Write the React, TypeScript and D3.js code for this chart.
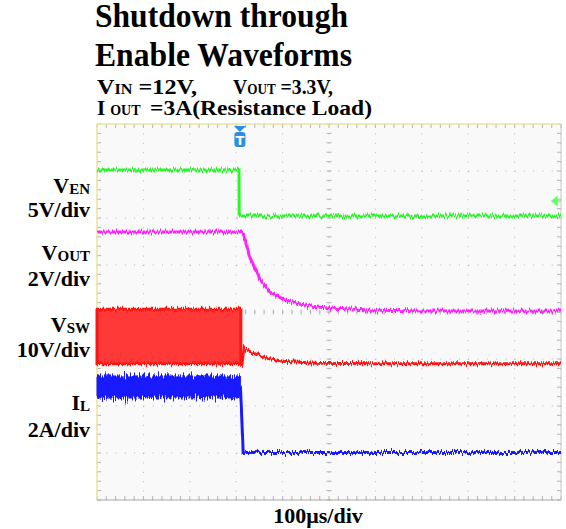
import * as d3 from "d3";

const FONT = "Liberation Serif, DejaVu Serif, Times New Roman, serif";

// time axis in microseconds: 100 us/div, 10 divisions
const timeDomain = [0, 1000];
const divCount = 8;

// VEN, 5 V/div
const venTimes = [0, 306, 306.5, 1000];
const venValues = [4.9, 4.9, 0, 0];
const venMarker = 1.6;

// VOUT, 2 V/div
const voutTimes = [0, 312, 315, 330, 351, 373, 401, 437, 474, 502, 588, 700, 1000];
const voutValues = [3.36, 3.36, 3.3, 2.26, 1.36, 0.81, 0.51, 0.3, 0.17, 0.13, 0.04, 0, 0];

// VSW, 10 V/div: switching band, then the tail after shutdown
const vswBandTimes = [0, 310];
const vswBandHigh = [11.6, 11.6];
const vswBandLow = [0, 0];
const vswTimes = [310, 312, 317, 336, 366, 401, 437, 474, 600, 1000];
const vswValues = [0, -0.6, 3.3, 2.23, 1.17, 0.53, 0.32, 0.1, 0, 0];

// IL, 2 A/div
const ilBandTimes = [0, 309];
const ilBandHigh = [3.26, 3.26];
const ilBandLow = [2.32, 2.32];
const ilTimes = [309, 311, 315, 1000];
const ilValues = [2.8, 2.0, 0, 0];

const triggerTime = 308;

// channel ground offsets (div) and scales (units/div)
const venOffset = 6.04;
const voutOffset = 4.02;
const vswOffset = 2.9;
const ilOffset = 1.01;

const labelRows = [
  { name: "V", sub: "EN", scale: "5V/div" },
  { name: "V", sub: "OUT", scale: "2V/div" },
  { name: "V", sub: "SW", scale: "10V/div" },
  { name: "I", sub: "L", scale: "2A/div" },
];

export default function App() {
  const left = 97;
  const right = 561;
  const top = 124;
  const bottom = 500;

  const x = d3.scaleLinear().domain(timeDomain).range([left, right]);
  const yDiv = d3.scaleLinear().domain([0, divCount]).range([bottom, top]);
  const chan = (offset: number, perDiv: number) => (v: number) => yDiv(offset + v / perDiv);

  const yVen = chan(venOffset, 5);
  const yVout = chan(voutOffset, 2);
  const yVsw = chan(vswOffset, 10);
  const yIl = chan(ilOffset, 2);

  const trace = (times: number[], vals: number[], y: (v: number) => number) =>
    d3
      .line<number>()
      .x((_, i) => x(times[i]))
      .y((d) => y(d))(vals) as string;

  const band = (times: number[], lo: number[], hi: number[], y: (v: number) => number) =>
    d3
      .area<number>()
      .x((t) => x(t))
      .y0((_, i) => y(lo[i]))
      .y1((_, i) => y(hi[i]))(times) as string;

  const xMajor = d3.range(0, 11).map((i) => timeDomain[0] + i * 100);
  const yMajor = d3.range(0, divCount + 1);
  const xMinor = d3.range(0, 51).map((i) => i * 20);
  const yMinor = d3.range(0, divCount * 5 + 1).map((i) => i * 0.2);
  const cx = x(500);
  const cy = yDiv(4);

  const tx = x(triggerTime);
  const my = yVen(venMarker);

  const labelY = [
    [193, 217],
    [260, 286],
    [332, 357],
    [410, 437],
  ];

  const textStyle = { fontFamily: FONT, fontWeight: "bold" as const };

  return (
    <svg width={566} height={529} style={{ display: "block", position: "absolute", left: 0, top: 0 }}>
      <defs>
        <filter
          id="noise"
          filterUnits="userSpaceOnUse"
          x={80}
          y={110}
          width={500}
          height={410}
          colorInterpolationFilters="sRGB"
        >
          <feTurbulence type="fractalNoise" baseFrequency="0.8 0.03" numOctaves={2} seed={4} result="t" />
          <feColorMatrix
            in="t"
            type="matrix"
            values="1 0 0 0 0  0 0 0 0 0  0 0 0 0 0  0 0 0 0 0.5"
            result="m"
          />
          <feDisplacementMap in="SourceGraphic" in2="m" scale={8} xChannelSelector="A" yChannelSelector="R" />
        </filter>
        <filter
          id="noise2"
          filterUnits="userSpaceOnUse"
          x={80}
          y={110}
          width={500}
          height={410}
          colorInterpolationFilters="sRGB"
        >
          <feTurbulence type="fractalNoise" baseFrequency="0.9 0.05" numOctaves={2} seed={9} result="t" />
          <feColorMatrix
            in="t"
            type="matrix"
            values="1 0 0 0 0  0 0 0 0 0  0 0 0 0 0  0 0 0 0 0.5"
            result="m"
          />
          <feDisplacementMap in="SourceGraphic" in2="m" scale={16} xChannelSelector="A" yChannelSelector="R" />
        </filter>
      </defs>
      <rect width={566} height={529} fill="#fff" />

      {/* title */}
      <g style={textStyle} fill="#000">
        <text x={95} y={27} fontSize={34} textLength={253} lengthAdjust="spacingAndGlyphs">
          Shutdown through
        </text>
        <text x={95} y={66} fontSize={34} textLength={257} lengthAdjust="spacingAndGlyphs">
          Enable Waveforms
        </text>
        <text x={97} y={94} fontSize={21} textLength={100} lengthAdjust="spacingAndGlyphs">
          V<tspan fontSize={14}>IN</tspan> =12V,
        </text>
        <text x={233} y={94} fontSize={21} textLength={100} lengthAdjust="spacingAndGlyphs">
          V<tspan fontSize={14}>OUT</tspan> =3.3V,
        </text>
        <text x={97} y={115} fontSize={21}>
          I<tspan fontSize={14} dx={5}>OUT</tspan>
        </text>
        <text x={150} y={115} fontSize={21} textLength={222} lengthAdjust="spacingAndGlyphs">
          =3A(Resistance Load)
        </text>
      </g>

      {/* screen */}
      <rect x={left} y={top} width={right - left} height={bottom - top} fill="#f9f9f9" />
      <g stroke="#b4b4b4" strokeWidth={1}>
        {xMajor.map((t) => (
          <line key={"vx" + t} x1={x(t)} x2={x(t)} y1={top} y2={bottom} strokeDasharray="1 8.4" />
        ))}
        {yMajor.map((d) => (
          <line key={"hy" + d} x1={left} x2={right} y1={yDiv(d)} y2={yDiv(d)} strokeDasharray="1 8.28" />
        ))}
        {xMinor.map((t) => (
          <g key={"mx" + t}>
            <line x1={x(t)} x2={x(t)} y1={cy - 2.5} y2={cy + 2.5} />
            <line x1={x(t)} x2={x(t)} y1={top} y2={top + 4} />
            <line x1={x(t)} x2={x(t)} y1={bottom - 4} y2={bottom} />
          </g>
        ))}
        {yMinor.map((d) => (
          <g key={"my" + d}>
            <line x1={cx - 2.5} x2={cx + 2.5} y1={yDiv(d)} y2={yDiv(d)} />
            <line x1={left} x2={left + 4} y1={yDiv(d)} y2={yDiv(d)} />
            <line x1={right - 4} x2={right} y1={yDiv(d)} y2={yDiv(d)} />
          </g>
        ))}
        <line x1={left} x2={right} y1={bottom} y2={bottom} stroke="#a8a8a8" />
        <line x1={right} x2={right} y1={top} y2={bottom} stroke="#c8c8c8" />
      </g>
      <line x1={left} x2={right} y1={top} y2={top} stroke="#ebe3a0" strokeWidth={1.5} />
      <line x1={left} x2={left} y1={top} y2={bottom} stroke="#ebe3a0" strokeWidth={1.5} />

      {/* traces */}
      <g filter="url(#noise)" fill="none" strokeWidth={3}>
        <path d={trace(venTimes, venValues, yVen)} stroke="#2cf52c" />
        <path d={trace(voutTimes, voutValues, yVout)} stroke="#ff22ff" />
        <path d={band(vswBandTimes, vswBandLow, vswBandHigh, yVsw)} fill="#ff3838" stroke="#ff1414" />
        <path d={trace(vswTimes, vswValues, yVsw)} stroke="#ff1414" />
        <path d={trace(ilTimes, ilValues, yIl)} stroke="#1a1aff" />
      </g>
      <g filter="url(#noise2)">
        <path d={band(ilBandTimes, ilBandLow, ilBandHigh, yIl)} fill="#1a1aff" stroke="#1a1aff" strokeWidth={1} />
      </g>

      {/* trigger marker */}
      <g fill="#2b8de6">
        <path d={`M${tx - 6},${top + 2} L${tx + 6},${top + 2} L${tx},${top + 8} Z`} />
        <rect x={tx - 5.5} y={top + 8} width={11} height={15} rx={3} />
        <text
          x={tx}
          y={top + 20.5}
          fontSize={13}
          fontWeight="bold"
          fontFamily="DejaVu Sans, sans-serif"
          fill="#fff"
          textAnchor="middle"
        >
          T
        </text>
      </g>

      {/* VEN ground marker */}
      <g stroke="#66ff66" fill="#66ff66" strokeWidth={1.5}>
        <path d={`M${right - 9},${my} L${right - 4},${my - 4} L${right - 4},${my + 4} Z`} />
        <line x1={right - 5} x2={right} y1={my} y2={my} />
      </g>

      {/* channel labels */}
      <g style={textStyle} fill="#000" textAnchor="end">
        {labelRows.map((r, i) => (
          <g key={r.scale}>
            <text x={90} y={labelY[i][0]} fontSize={22}>
              {r.name}
              <tspan fontSize={15} dy={1}>
                {r.sub}
              </tspan>
            </text>
            <text x={90} y={labelY[i][1]} fontSize={22}>
              {r.scale}
            </text>
          </g>
        ))}
      </g>

      <text x={318} y={523} style={textStyle} fontSize={22} textAnchor="middle">
        100μs/div
      </text>
    </svg>
  );
}
